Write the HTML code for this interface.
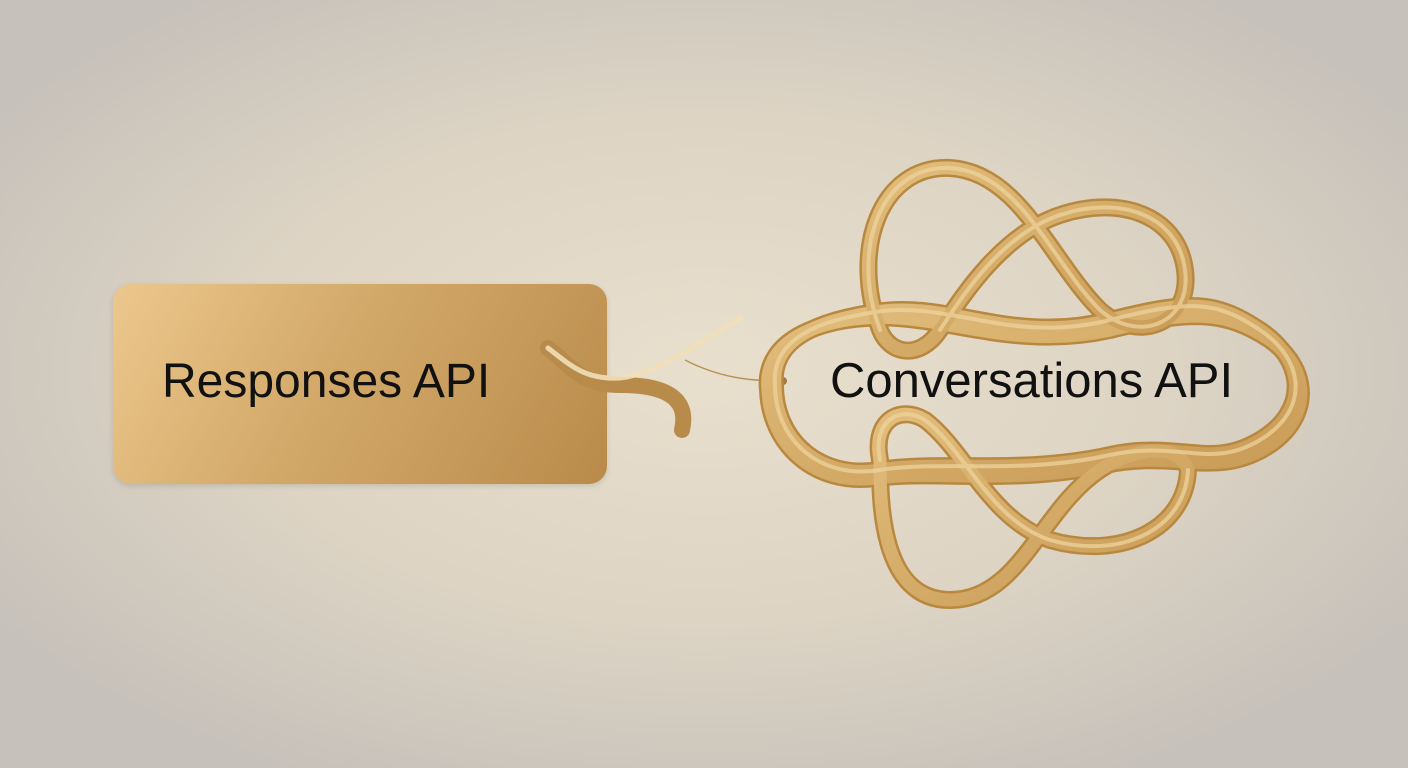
<!DOCTYPE html>
<html><head><style>
html,body{margin:0;padding:0;width:1408px;height:768px;overflow:hidden}
body{background:radial-gradient(ellipse 60% 60% at 50% 48%,#e9dfcd 0%,#ddd4c4 55%,#c6c1ba 100%);font-family:"Liberation Sans",sans-serif;position:relative}
.box{position:absolute;left:113px;top:284px;width:494px;height:200px;border-radius:18px;background:linear-gradient(120deg,#ecc78d 0%,#d2a868 45%,#b98b4b 100%);box-shadow:0 2px 6px rgba(0,0,0,.12)}
.t1{position:absolute;left:162px;top:354px;font-size:48px;color:#111}
.t2{position:absolute;left:830px;top:353px;font-size:49px;color:#111}
svg{position:absolute;left:0;top:0}
</style></head><body>
<div class="box"></div>
<svg width="1408" height="768">
<defs><linearGradient id="g" x1="0" y1="0" x2="1" y2="1"><stop offset="0" stop-color="#e2bd7c"/><stop offset="1" stop-color="#c89a55"/></linearGradient></defs>
<path d="M548 348 C 570 365, 580 385, 620 385 C 660 385, 690 395, 682 430" fill="none" stroke="#b88b4a" stroke-width="16" stroke-linecap="round"/>
<path d="M548 348 C 570 365, 585 380, 620 378 C 650 375, 690 350, 740 318" fill="none" stroke="#f1dfb8" stroke-width="5" stroke-linecap="round" opacity=".9"/>
<path d="M685 360 C 720 378, 750 381, 783 381" fill="none" stroke="#b8945a" stroke-width="1.5"/>
<circle cx="783" cy="381" r="4" fill="#a07a40"/>
<g fill="none" stroke-linecap="round">
<g stroke="#b8883f" stroke-width="18">
<path d="M768 390 C 762 335, 830 320, 865 318 C 940 312, 1010 352, 1110 330 C 1190 310, 1225 310, 1270 340 C 1312 370, 1312 420, 1265 448 C 1215 478, 1175 450, 1105 465 C 1015 485, 935 470, 875 478 C 815 486, 770 445, 768 390 Z"/>
<path d="M775 385 C 770 330, 840 318, 875 312 C 950 300, 1010 345, 1110 320 C 1190 300, 1215 300, 1260 330 C 1305 360, 1310 410, 1260 440 C 1210 470, 1180 440, 1110 455 C 1020 475, 940 460, 880 470 C 820 480, 775 440, 775 385 Z"/>
<path d="M880 330 C 850 250, 880 165, 950 168 C 1020 172, 1050 260, 1100 310 C 1140 345, 1192 322, 1185 270 C 1178 215, 1120 195, 1060 215 C 1000 235, 960 300, 940 330 C 920 360, 890 355, 880 330 Z"/>
<path d="M880 460 C 872 420, 900 405, 925 420 C 965 450, 990 520, 1050 540 C 1120 560, 1185 530, 1188 470 C 1178 440, 1130 450, 1100 470 C 1040 510, 1020 600, 950 600 C 880 600, 880 500, 880 460 Z"/>
</g>
<g stroke="url(#g)" stroke-width="13">
<path d="M768 390 C 762 335, 830 320, 865 318 C 940 312, 1010 352, 1110 330 C 1190 310, 1225 310, 1270 340 C 1312 370, 1312 420, 1265 448 C 1215 478, 1175 450, 1105 465 C 1015 485, 935 470, 875 478 C 815 486, 770 445, 768 390 Z"/>
<path d="M775 385 C 770 330, 840 318, 875 312 C 950 300, 1010 345, 1110 320 C 1190 300, 1215 300, 1260 330 C 1305 360, 1310 410, 1260 440 C 1210 470, 1180 440, 1110 455 C 1020 475, 940 460, 880 470 C 820 480, 775 440, 775 385 Z"/>
<path d="M880 330 C 850 250, 880 165, 950 168 C 1020 172, 1050 260, 1100 310 C 1140 345, 1192 322, 1185 270 C 1178 215, 1120 195, 1060 215 C 1000 235, 960 300, 940 330 C 920 360, 890 355, 880 330 Z"/>
<path d="M880 460 C 872 420, 900 405, 925 420 C 965 450, 990 520, 1050 540 C 1120 560, 1185 530, 1188 470 C 1178 440, 1130 450, 1100 470 C 1040 510, 1020 600, 950 600 C 880 600, 880 500, 880 460 Z"/>
</g>
<g stroke="#f0d6a0" stroke-width="4" opacity=".7">
<path d="M775 385 C 770 330, 840 318, 875 312 C 950 300, 1010 345, 1110 320 C 1190 300, 1215 300, 1260 330 C 1305 360, 1310 410, 1260 440 C 1210 470, 1180 440, 1110 455 C 1020 475, 940 460, 880 470 C 820 480, 775 440, 775 385 Z"/>
<path d="M880 330 C 850 250, 880 165, 950 168 C 1020 172, 1050 260, 1100 310 C 1140 345, 1192 322, 1185 270 C 1178 215, 1120 195, 1060 215 C 1000 235, 960 300, 940 330"/>
<path d="M880 460 C 872 420, 900 405, 925 420 C 965 450, 990 520, 1050 540 C 1120 560, 1185 530, 1188 470"/>
</g>
</g>
</svg>
<div class="t1">Responses API</div>
<div class="t2">Conversations API</div>
</body></html>
